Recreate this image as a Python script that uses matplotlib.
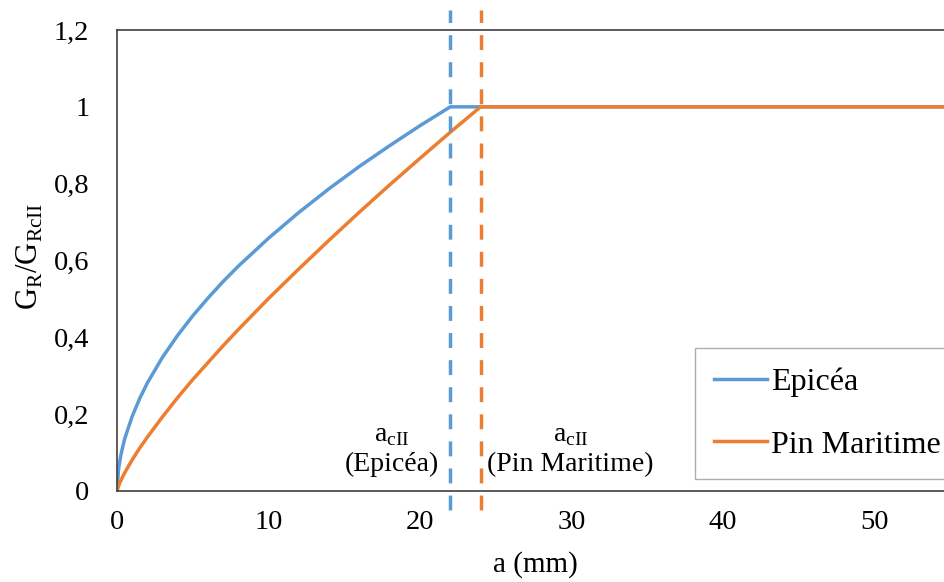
import matplotlib
matplotlib.use('Agg')
import matplotlib.pyplot as plt

plt.rcParams['font.family'] = ['Liberation Serif', 'DejaVu Serif']
plt.rcParams['mathtext.fontset'] = 'custom'
plt.rcParams['mathtext.rm'] = 'Liberation Serif'

# données
a_epicea = [0, 0.1, 0.25, 0.5, 1, 1.5, 2, 3, 4, 5, 6, 7, 8, 10, 12, 14, 16, 18, 20, 22, 24, 60]
g_epicea = [0, 0.057, 0.093, 0.135, 0.194, 0.241, 0.281, 0.348, 0.405, 0.456, 0.502, 0.545, 0.585,
            0.658, 0.725, 0.787, 0.845, 0.899, 0.951, 1, 1, 1]
a_pin = [0, 0.1, 0.25, 0.5, 1, 1.5, 2, 3, 4, 5, 6, 7, 8, 10, 12, 14, 16, 18, 20, 22, 24, 60]
g_pin = [0, 0.013, 0.027, 0.047, 0.081, 0.112, 0.140, 0.193, 0.243, 0.290, 0.334, 0.378, 0.420,
         0.501, 0.578, 0.653, 0.726, 0.797, 0.866, 0.934, 1, 1]
ac_epicea = 22
ac_pin = 24

bleu = '#5B9BD5'
orange = '#ED7D31'

fig = plt.figure(figsize=(9.45, 5.82), dpi=100)
ax = fig.add_axes([117 / 945, 91 / 582, 1 - 117 / 945, 461 / 582])

ax.plot(a_epicea, g_epicea, color=bleu, lw=2.5, label='Epicéa')
ax.plot(a_pin, g_pin, color=orange, lw=2.5, label='Pin Maritime')

# lignes verticales a_cII
ax.plot([ac_epicea, ac_epicea], [-0.05, 1.253], color=bleu, lw=2.5, ls=(0, (4.3, 3.5)), clip_on=False)
ax.plot([ac_pin, ac_pin], [-0.05, 1.253], color=orange, lw=2.5, ls=(0, (4.3, 3.5)), clip_on=False)

ax.text(18.12, 0.036, r'a$_\mathrm{cII}$' + '\n(Epicéa)', ha='center', va='bottom', fontsize=20, linespacing=1.2)
ax.text(29.93, 0.036, r'a$_\mathrm{cII}$' + '\n(Pin Maritime)', ha='center', va='bottom', fontsize=20, linespacing=1.2)

ax.set_xlim(0, 54.65)
ax.set_ylim(0, 1.2)
ax.set_xticks([0, 10, 20, 30, 40, 50])
ax.set_yticks([0, 0.2, 0.4, 0.6, 0.8, 1, 1.2])
ax.set_yticklabels(['0', '0,2', '0,4', '0,6', '0,8', '1', '1,2'])
ax.tick_params(length=0, labelsize=20.5)
ax.tick_params(axis='x', pad=14)
ax.tick_params(axis='y', pad=20)
for s in ax.spines.values():
    s.set_color('#404040')
    s.set_linewidth(1.2)
ax.spines['right'].set_visible(False)

ax.set_xlabel('a (mm)', fontsize=21)
ax.xaxis.set_label_coords(0.505, -0.130)
ax.set_ylabel(r'G$_\mathrm{R}$/G$_\mathrm{RcII}$', fontsize=22)
ax.yaxis.set_label_coords(-0.087, 0.508)

leg = ax.legend(loc='upper left', bbox_to_anchor=(0.698, 0.310), fontsize=23, frameon=True, fancybox=False,
                edgecolor='#999999', handlelength=1.66, handletextpad=0.12, labelspacing=1.05, borderpad=0.6,
                borderaxespad=0)
leg.get_frame().set_linewidth(1.0)

fig.savefig('out.png', dpi=100)
